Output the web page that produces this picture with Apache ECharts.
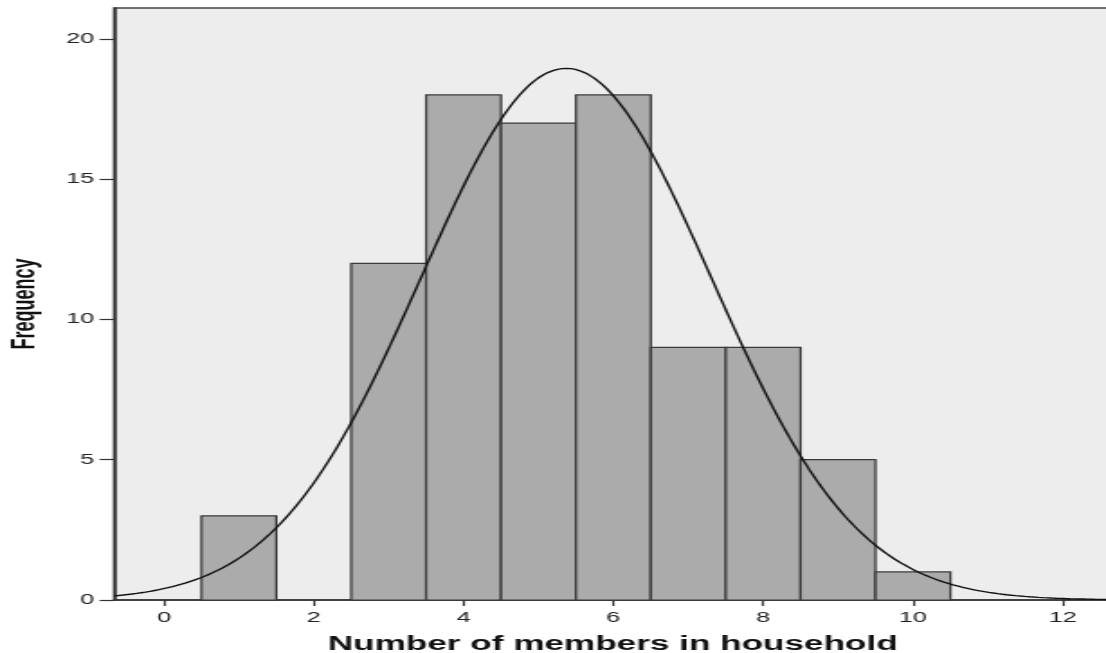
<!DOCTYPE html>
<html>
<head>
<meta charset="utf-8">
<script src="https://cdn.jsdelivr.net/npm/echarts@6/dist/echarts.min.js"></script>
<style>
  html, body { margin: 0; padding: 0; background: #ffffff; overflow: hidden; }
  #chart { width: 614px; height: 653px; transform: scaleX(1.8013); transform-origin: 0 0; }
</style>
</head>
<body>
<div id="chart"></div>
<script>
// ---- data ----
const householdSize = [1, 2, 3, 4, 5, 6, 7, 8, 9, 10];
const frequency     = [3, 0, 12, 18, 17, 18, 9, 9, 5, 1];
const xTickValues   = [0, 2, 4, 6, 8, 10, 12];
const yTickValues   = [0, 5, 10, 15, 20];
const xAxisTitle = 'Number of members in household';
const yAxisTitle = 'Frequency';
const binWidth = 1;

// Normal curve fitted to the histogram counts (mean / sd from the data above)
const N = frequency.reduce((a, b) => a + b, 0);
const mean = householdSize.reduce((s, x, i) => s + x * frequency[i], 0) / N;
const sd = Math.sqrt(householdSize.reduce((s, x, i) => s + frequency[i] * (x - mean) * (x - mean), 0) / (N - 1));

const X_MIN = -0.667, X_MAX = 12.65, Y_MAX = 21.1;
const curve = [];
for (let x = X_MIN; x <= X_MAX + 1e-9; x += 0.02) {
  const z = (x - mean) / sd;
  curve.push([x, N * binWidth * Math.exp(-0.5 * z * z) / (sd * Math.sqrt(2 * Math.PI))]);
}
const bars = householdSize.map((x, i) => [x, frequency[i]]).filter(d => d[1] > 0);

const chart = echarts.init(document.getElementById('chart'), null, { renderer: 'canvas' });
const labelFont = { fontFamily: 'Liberation Sans, Arial, sans-serif', fontSize: 14, color: '#222' };

chart.setOption({
  animation: false,
  backgroundColor: '#ffffff',
  grid: {
    left: 63.3, top: 8, right: -3, bottom: 53,
    outerBoundsMode: 'none',
    containLabel: false,
    show: true, backgroundColor: '#ededed', borderColor: '#444', borderWidth: 1.3
  },
  xAxis: {
    type: 'value', min: X_MIN, max: X_MAX,
    name: xAxisTitle, nameLocation: 'middle', nameGap: 35,
    nameTextStyle: { fontFamily: 'Liberation Sans, Arial, sans-serif', fontWeight: 'bold', fontSize: 19.5, color: '#111' },
    splitLine: { show: false },
    axisLine: { onZero: false, lineStyle: { color: '#333', width: 1.5 } },
    axisTick: { customValues: xTickValues, length: 6, lineStyle: { color: '#333', width: 1.2 } },
    axisLabel: Object.assign({ customValues: xTickValues, margin: 11 }, labelFont)
  },
  yAxis: {
    type: 'value', min: 0, max: Y_MAX,
    name: yAxisTitle, nameLocation: 'middle', nameGap: 40, nameRotate: 90,
    nameTextStyle: { fontFamily: 'Liberation Sans, Arial, sans-serif', fontWeight: 'bold', fontSize: 18, color: '#111' },
    splitLine: { show: false },
    axisLine: { onZero: false, lineStyle: { color: '#333', width: 1.6 } },
    axisTick: { customValues: yTickValues, length: 8, lineStyle: { color: '#333', width: 1.2 } },
    axisLabel: Object.assign({ customValues: yTickValues, margin: 11 }, labelFont)
  },
  series: [
    {
      type: 'custom',
      data: bars,
      z: 2,
      renderItem: function (params, api) {
        const x = api.value(0), y = api.value(1);
        const p1 = api.coord([x - binWidth / 2, y]);
        const p2 = api.coord([x + binWidth / 2, 0]);
        return {
          type: 'rect',
          shape: { x: p1[0], y: p1[1], width: p2[0] - p1[0], height: p2[1] - p1[1] },
          style: { fill: '#ababab', stroke: '#3a3a3a', lineWidth: 1.25 }
        };
      }
    },
    {
      type: 'line',
      data: curve,
      z: 3,
      showSymbol: false,
      smooth: false,
      clip: true,
      lineStyle: { color: '#111', width: 1.4 }
    }
  ]
});
</script>
</body>
</html>
